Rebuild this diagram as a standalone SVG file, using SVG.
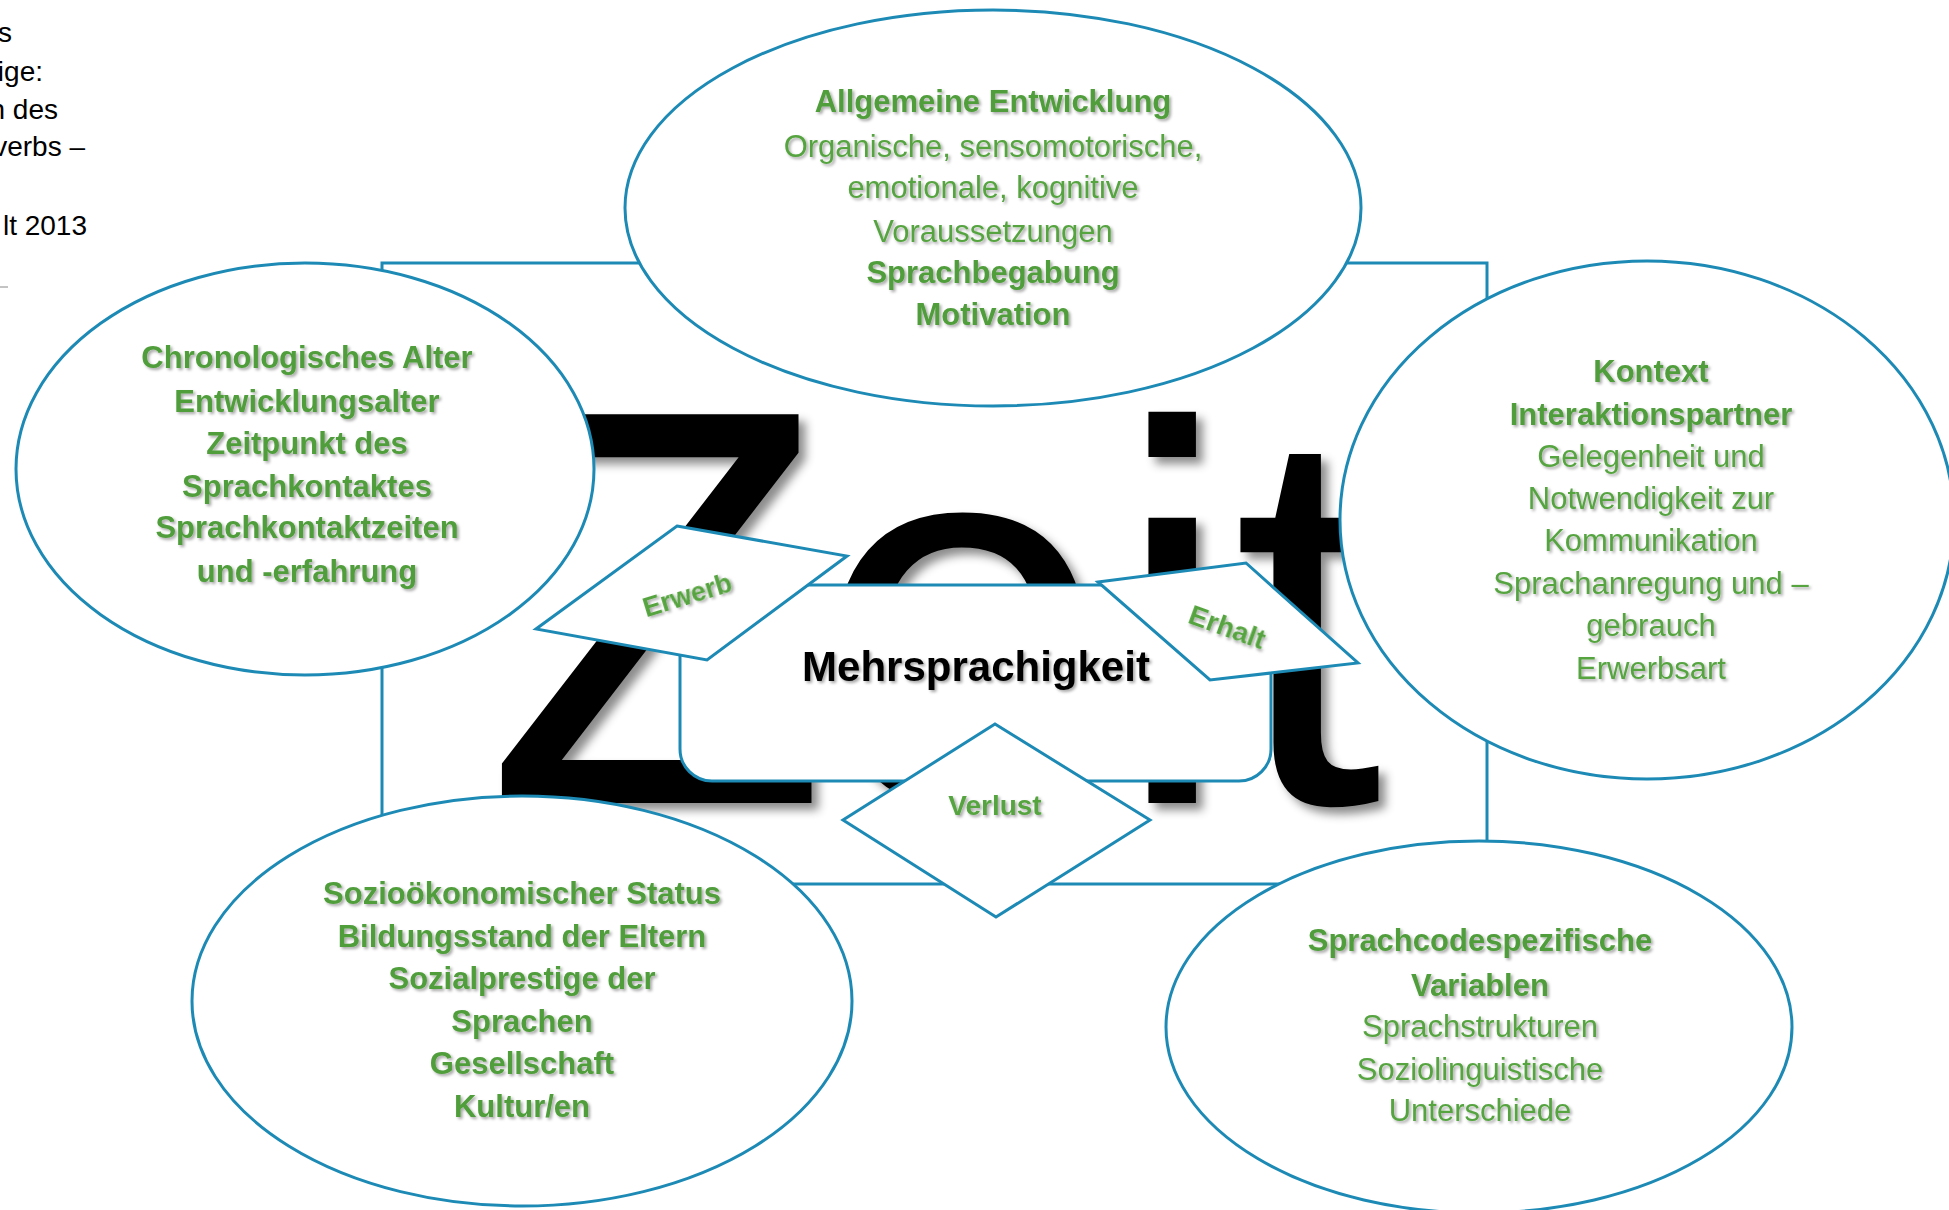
<svg xmlns="http://www.w3.org/2000/svg" width="1949" height="1210" viewBox="0 0 1949 1210">
<defs>
<filter id="bigShadow" x="-10%" y="-10%" width="130%" height="130%">
<feDropShadow dx="7" dy="7" stdDeviation="5" flood-color="#000" flood-opacity="0.45"/>
</filter>
<filter id="txtShadow" x="-5%" y="-20%" width="115%" height="160%">
<feDropShadow dx="2" dy="2" stdDeviation="1.5" flood-color="#000" flood-opacity="0.35"/>
</filter>
<style>
.shape{fill:#fff;stroke:#1c8ab5;stroke-width:3;}
.frame{fill:none;stroke:#1c8ab5;stroke-width:3;}
.g{font-family:"Liberation Sans",Arial,sans-serif;font-size:31px;fill:#56a441;text-anchor:middle;filter:url(#txtShadow);}
.b{font-weight:bold;fill:#4f9d3b;}
.lab{font-family:"Liberation Sans",Arial,sans-serif;font-weight:bold;fill:#56a441;text-anchor:middle;filter:url(#txtShadow);}
.note{font-family:"Liberation Sans",Arial,sans-serif;font-size:28px;fill:#000;text-anchor:end;}
.big{font-family:"Liberation Sans",Arial,sans-serif;fill:#000;filter:url(#bigShadow);}
</style>
</defs>
<rect width="1949" height="1210" fill="#fff"/>

<g id="note">
<text class="note" x="12" y="42">s</text>
<text class="note" x="43" y="81">ige:</text>
<text class="note" x="58" y="119">n des</text>
<text class="note" x="85" y="156">verbs –</text>
<text class="note" x="87" y="235">lt 2013</text>
<line x1="0" y1="287" x2="8" y2="287" stroke="#888" stroke-width="1"/>
</g>

<g id="connectors">
<rect class="frame" x="382" y="263" width="1105" height="621"/>
</g>

<g id="zeit">
<text class="big" x="484" y="803" font-size="565">Z</text>
<text class="big" x="812" y="803" font-size="540">eit</text>
</g>

<g id="node-allgemein">
<ellipse class="shape" cx="993" cy="208" rx="368" ry="198"/>
<text class="g b" x="993" y="112">Allgemeine Entwicklung</text>
<text class="g" x="993" y="157">Organische, sensomotorische,</text>
<text class="g" x="993" y="198">emotionale, kognitive</text>
<text class="g" x="993" y="242">Voraussetzungen</text>
<text class="g b" x="993" y="283">Sprachbegabung</text>
<text class="g b" x="993" y="325">Motivation</text>
</g>

<g id="node-alter">
<ellipse class="shape" cx="305" cy="469" rx="289" ry="206"/>
<text class="g b" x="307" y="368">Chronologisches Alter</text>
<text class="g b" x="307" y="412">Entwicklungsalter</text>
<text class="g b" x="307" y="454">Zeitpunkt des</text>
<text class="g b" x="307" y="497">Sprachkontaktes</text>
<text class="g b" x="307" y="538">Sprachkontaktzeiten</text>
<text class="g b" x="307" y="582">und -erfahrung</text>
</g>

<g id="node-kontext">
<ellipse class="shape" cx="1647" cy="520" rx="307" ry="259"/>
<text class="g b" x="1651" y="382">Kontext</text>
<text class="g b" x="1651" y="425">Interaktionspartner</text>
<text class="g" x="1651" y="467">Gelegenheit und</text>
<text class="g" x="1651" y="509">Notwendigkeit zur</text>
<text class="g" x="1651" y="551">Kommunikation</text>
<text class="g" x="1651" y="594">Sprachanregung und –</text>
<text class="g" x="1651" y="636">gebrauch</text>
<text class="g" x="1651" y="679">Erwerbsart</text>
</g>

<g id="node-sozio">
<ellipse class="shape" cx="522" cy="1001" rx="330" ry="205"/>
<text class="g b" x="522" y="904">Sozioökonomischer Status</text>
<text class="g b" x="522" y="947">Bildungsstand der Eltern</text>
<text class="g b" x="522" y="989">Sozialprestige der</text>
<text class="g b" x="522" y="1032">Sprachen</text>
<text class="g b" x="522" y="1074">Gesellschaft</text>
<text class="g b" x="522" y="1117">Kultur/en</text>
</g>

<g id="node-sprachcode">
<ellipse class="shape" cx="1479" cy="1027" rx="313" ry="186"/>
<text class="g b" x="1480" y="951">Sprachcodespezifische</text>
<text class="g b" x="1480" y="996">Variablen</text>
<text class="g" x="1480" y="1037">Sprachstrukturen</text>
<text class="g" x="1480" y="1080">Soziolinguistische</text>
<text class="g" x="1480" y="1121">Unterschiede</text>
</g>

<g id="node-mehrsprachigkeit">
<rect class="shape" x="680" y="585" width="591" height="196" rx="32"/>
<text x="976" y="681" font-family="'Liberation Sans',Arial,sans-serif" font-weight="bold" font-size="42" fill="#000" text-anchor="middle" filter="url(#txtShadow)">Mehrsprachigkeit</text>
</g>

<g id="node-erwerb">
<polygon class="shape" points="677,526 847,556 707,660 536,629"/>
<text class="lab" font-size="27" transform="translate(690,604) rotate(-17)" x="0" y="0">Erwerb</text>
</g>

<g id="node-erhalt">
<polygon class="shape" points="1098,582 1246,563 1358,663 1210,680"/>
<text class="lab" font-size="28" transform="translate(1224,636) rotate(20)" x="0" y="0">Erhalt</text>
</g>

<g id="node-verlust">
<polygon class="shape" points="995,724 1150,820 996,917 843,820"/>
<text class="lab" font-size="28" x="995" y="815">Verlust</text>
</g>
</svg>
